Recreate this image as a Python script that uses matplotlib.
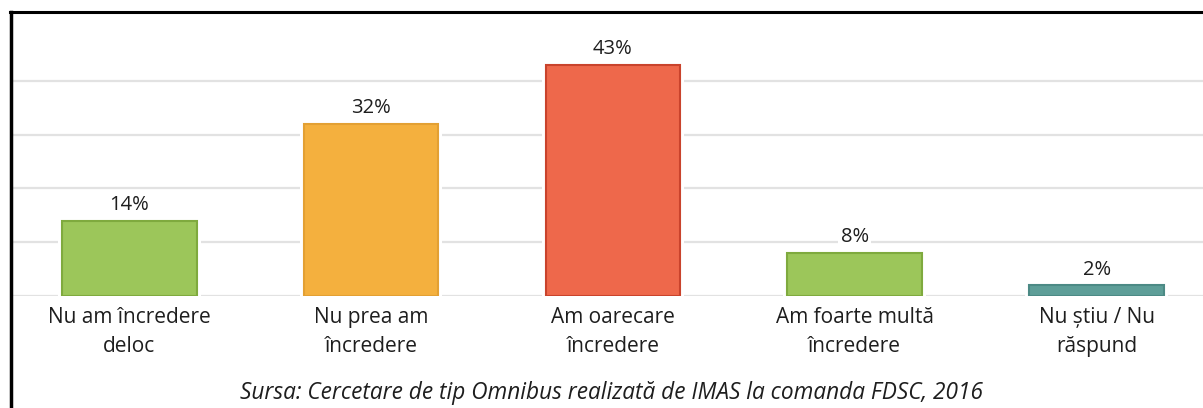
import matplotlib.pyplot as plt
from matplotlib.lines import Line2D

categories = ["Nu am încredere\ndeloc", "Nu prea am\nîncredere", "Am oarecare\nîncredere",
              "Am foarte multă\nîncredere", "Nu știu / Nu\nrăspund"]
values = [14, 32, 43, 8, 2]
value_labels = ["14%", "32%", "43%", "8%", "2%"]
fill_colors = ["#9CC65A", "#F4B03E", "#EE684B", "#9CC65A", "#5E9E98"]
edge_colors = ["#7FAA3E", "#E3A033", "#C9432C", "#7FAA3E", "#4C8A85"]
source = "Sursa: Cercetare de tip Omnibus realizată de IMAS la comanda FDSC, 2016"

plt.rcParams['font.family'] = ['Open Sans', 'DejaVu Sans']

W, H = 1203, 408
fig = plt.figure(figsize=(W / 100, H / 100), dpi=100)
# axes: left at border, baseline at y=296 px, top at border y=11 px
ax = fig.add_axes([12 / W, (H - 296) / H, 1 - 12 / W, (296 - 11) / H])

x = list(range(len(values)))
# white halo behind bars (gridlines break around them)
ax.bar(x, values, width=0.59, color="white", zorder=2)
ax.bar(x, values, width=0.557, color=fill_colors, edgecolor=edge_colors,
       linewidth=1.5, zorder=3)

for xi, v, lab in zip(x, values, value_labels):
    ax.annotate(lab, (xi, v), xytext=(0, 4), textcoords="offset points",
                ha="center", va="bottom", fontsize=14.5, color="#1E1E1E",
                bbox=dict(boxstyle="square,pad=0.12", fc="white", ec="none"),
                zorder=4)

ax.set_xlim(-0.485, 4.44)
ax.set_ylim(0, 285 / 53.8 * 10)
ax.set_yticks([0, 10, 20, 30, 40])
ax.yaxis.grid(True, color="#E2E2E2", linewidth=1.6)
ax.set_axisbelow(True)
ax.tick_params(axis="y", left=False, labelleft=False)
ax.tick_params(axis="x", length=0, pad=8)
ax.set_xticks(x)
ax.set_xticklabels(categories, fontsize=15, color="#1E1E1E", linespacing=1.5)
for s in ax.spines.values():
    s.set_visible(False)

fig.text(612 / W, 3 / H, source, ha="center", va="bottom",
         fontsize=16.3, style="italic", color="#1E1E1E")

# black frame (top and left)
fig.add_artist(Line2D([10 / W, 1], [1 - 11.5 / H] * 2, transform=fig.transFigure,
                      color="black", linewidth=2.2))
fig.add_artist(Line2D([10.5 / W] * 2, [0, 1 - 11.5 / H], transform=fig.transFigure,
                      color="black", linewidth=2.5))

fig.savefig("out.png", dpi=100, facecolor="white")
